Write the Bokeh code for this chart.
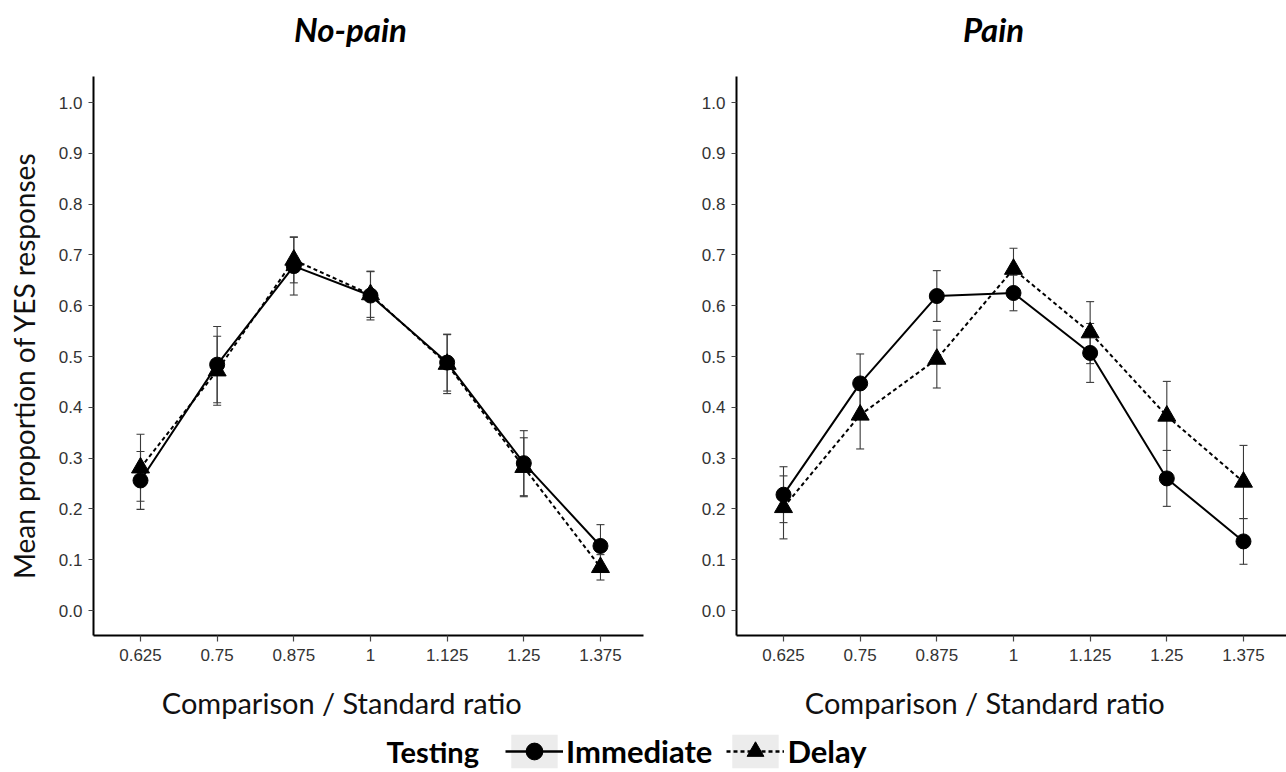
import math
from bokeh.plotting import figure
from bokeh.models import (ColumnDataSource, Whisker, TeeHead, FixedTicker, Range1d,
                          Label, Legend, LegendItem)
from bokeh.layouts import column, row
from bokeh.embed import file_html
from bokeh.resources import INLINE

# ---------------- data ----------------
ratios = [0.625, 0.75, 0.875, 1.0, 1.125, 1.25, 1.375]
ratio_labels = ["0.625", "0.75", "0.875", "1", "1.125", "1.25", "1.375"]
y_ticks = [0.0, 0.1, 0.2, 0.3, 0.4, 0.5, 0.6, 0.7, 0.8, 0.9, 1.0]

nopain_immediate = [0.256, 0.484, 0.678, 0.620, 0.488, 0.290, 0.127]
nopain_immediate_err = [0.057, 0.075, 0.057, 0.048, 0.056, 0.064, 0.042]
nopain_delay = [0.281, 0.472, 0.690, 0.622, 0.485, 0.282, 0.085]
nopain_delay_err = [0.066, 0.068, 0.045, 0.045, 0.058, 0.058, 0.025]

pain_immediate = [0.228, 0.447, 0.619, 0.625, 0.507, 0.260, 0.136]
pain_immediate_err = [0.055, 0.058, 0.050, 0.035, 0.058, 0.055, 0.045]
pain_delay = [0.203, 0.385, 0.495, 0.672, 0.547, 0.383, 0.253]
pain_delay_err = [0.062, 0.067, 0.057, 0.041, 0.061, 0.068, 0.072]

panel_titles = ["No-pain", "Pain"]
x_title = "Comparison / Standard  ratio"
y_title = "Mean proportion of YES responses"
legend_title = "Testing"
series_names = ["Immediate", "Delay"]

# ---------------- geometry / style ----------------
CAL = "Lato"
TICK_FONT = "Liberation Sans"
PX_X = 613.3          # pixels per x unit
PX_Y = 508.0          # pixels per y unit
PANEL_H = 723
Y_ZERO_PX = 610       # pixel row of y = 0
FIRST_TICK_PX = 140   # pixel column of first ratio inside a panel (left panel)
AXIS_GAP_PX = 47      # from y axis to first ratio
Y_AXIS_LO, Y_AXIS_HI = -0.0492, 1.0512


def make_panel(title, imm, imm_err, dly, dly_err, width, first_px, show_ylabel):
    x0 = ratios[0] - first_px / PX_X
    x1 = ratios[0] + (width - first_px) / PX_X
    y1 = Y_ZERO_PX / PX_Y
    y0 = -(PANEL_H - Y_ZERO_PX) / PX_Y
    x_axis_at = ratios[0] - AXIS_GAP_PX / PX_X
    x_axis_end = ratios[0] + (width - first_px - (15 if show_ylabel else 0)) / PX_X

    p = figure(width=width, height=PANEL_H, title=None,
               x_range=Range1d(x0, x1), y_range=Range1d(y0, y1),
               output_backend="svg", toolbar_location=None,
               min_border=0, min_border_left=0, min_border_right=0,
               min_border_top=0, min_border_bottom=0)
    p.outline_line_color = None
    p.grid.visible = False
    p.background_fill_color = "white"
    p.border_fill_color = "white"

    for ax in (p.xaxis[0], p.yaxis[0]):
        ax.axis_line_color = "black"
        ax.axis_line_width = 2
        ax.major_tick_in = 0
        ax.major_tick_line_color = "#444444"
        ax.major_tick_line_width = 1.2
        ax.minor_tick_line_color = None
        ax.major_label_text_font = TICK_FONT
        ax.major_label_text_font_size = "17px"
        ax.major_label_text_color = "#333333"

    p.xaxis.fixed_location = Y_AXIS_LO
    p.xaxis.bounds = (x_axis_at, x_axis_end)
    p.xaxis.ticker = FixedTicker(ticks=ratios)
    p.xaxis.major_label_overrides = {r: l for r, l in zip(ratios, ratio_labels)}
    p.xaxis.major_tick_out = 6
    p.xaxis.major_label_standoff = 8

    p.yaxis.fixed_location = x_axis_at
    p.yaxis.bounds = (Y_AXIS_LO, Y_AXIS_HI)
    p.yaxis.ticker = FixedTicker(ticks=y_ticks)
    p.yaxis.major_label_overrides = {t: f"{t:.1f}" for t in y_ticks}
    p.yaxis.major_tick_out = 5
    p.yaxis.major_label_standoff = 6

    src_i = ColumnDataSource(dict(x=ratios, y=imm,
                                  lo=[v - e for v, e in zip(imm, imm_err)],
                                  hi=[v + e for v, e in zip(imm, imm_err)]))
    src_d = ColumnDataSource(dict(x=ratios, y=dly,
                                  lo=[v - e for v, e in zip(dly, dly_err)],
                                  hi=[v + e for v, e in zip(dly, dly_err)]))

    for src in (src_d, src_i):
        w = Whisker(source=src, base="x", lower="lo", upper="hi", dimension="height",
                    line_color="#3a3a3a", line_width=1.1,
                    upper_head=TeeHead(size=8, line_color="#3a3a3a", line_width=1.1),
                    lower_head=TeeHead(size=8, line_color="#3a3a3a", line_width=1.1))
        p.add_layout(w)

    p.line("x", "y", source=src_d, line_color="black", line_width=2, line_dash="4 3")
    p.line("x", "y", source=src_i, line_color="black", line_width=2)
    p.scatter("x", "y", source=src_d, marker="triangle", size=18,
              fill_color="black", line_color="black")
    p.scatter("x", "y", source=src_i, marker="circle", size=15,
              fill_color="black", line_color="black")

    # texts placed relative to the first ratio tick (layout offsets in pixels)
    p.add_layout(Label(x=ratios[0] + 210 / PX_X, y=(Y_ZERO_PX - 28) / PX_Y, text=title,
                       text_font=CAL, text_font_style="bold italic", text_font_size="33px",
                       text_align="center", text_baseline="middle", text_color="black"))
    p.add_layout(Label(x=ratios[0] + 205 / PX_X, y=(Y_ZERO_PX - 702) / PX_Y, text=x_title,
                       text_font=CAL, text_font_size="29px",
                       text_align="center", text_baseline="middle", text_color="#111111"))
    if show_ylabel:
        p.add_layout(Label(x=ratios[0] - (first_px - 23) / PX_X, y=(Y_ZERO_PX - 365) / PX_Y,
                           text=y_title, angle=math.pi / 2,
                           text_font=CAL, text_font_size="28px",
                           text_align="center", text_baseline="middle", text_color="#111111"))
    return p


p1 = make_panel(panel_titles[0], nopain_immediate, nopain_immediate_err,
                nopain_delay, nopain_delay_err, 658, FIRST_TICK_PX, True)
p2 = make_panel(panel_titles[1], pain_immediate, pain_immediate_err,
                pain_delay, pain_delay_err, 628, 125, False)

# ---------------- legend strip ----------------
LEG_W, LEG_H = 1286, 49
p3 = figure(width=LEG_W, height=LEG_H, x_range=Range1d(0, LEG_W), y_range=Range1d(0, LEG_H),
            output_backend="svg", toolbar_location=None, title=None,
            x_axis_location=None, y_axis_location=None,
            min_border=0, min_border_left=0, min_border_right=0,
            min_border_top=0, min_border_bottom=0)
p3.outline_line_color = None
p3.grid.visible = False

# legend proxies (kept outside the visible range; only their legend glyphs show)
proxy = dict(x=[-1000], y=[-1000])
bg = p3.rect(x=proxy["x"], y=proxy["y"], width=1, height=1,
             fill_color="#ececec", line_color=None)
l_imm = p3.line(x=proxy["x"], y=proxy["y"], line_color="black", line_width=2.5)
m_imm = p3.scatter(x=proxy["x"], y=proxy["y"], marker="circle",
                   fill_color="black", line_color="black")
l_dly = p3.line(x=proxy["x"], y=proxy["y"], line_color="black", line_width=2.5,
                line_dash="4 3")
m_dly = p3.scatter(x=proxy["x"], y=proxy["y"], marker="triangle",
                   fill_color="black", line_color="black")

p3.add_layout(Label(x=386, y=21, text=legend_title, text_font=CAL, text_font_style="bold",
                    text_font_size="29px", text_align="left", text_baseline="middle",
                    text_color="black"))

legend = Legend(items=[LegendItem(label=series_names[0], renderers=[bg, l_imm, m_imm]),
                       LegendItem(label=series_names[1], renderers=[bg, l_dly, m_dly])],
                orientation="horizontal", location=(505, 0),
                glyph_width=58, glyph_height=42, label_height=42,
                label_standoff=3, spacing=14, padding=0, margin=0,
                border_line_color=None, background_fill_alpha=0,
                label_text_font=CAL, label_text_font_style="bold",
                label_text_font_size="31px", label_text_color="black")
p3.add_layout(legend)

layout = column(row(p1, p2), p3)
open("out.html", "w").write(file_html(layout, INLINE))
